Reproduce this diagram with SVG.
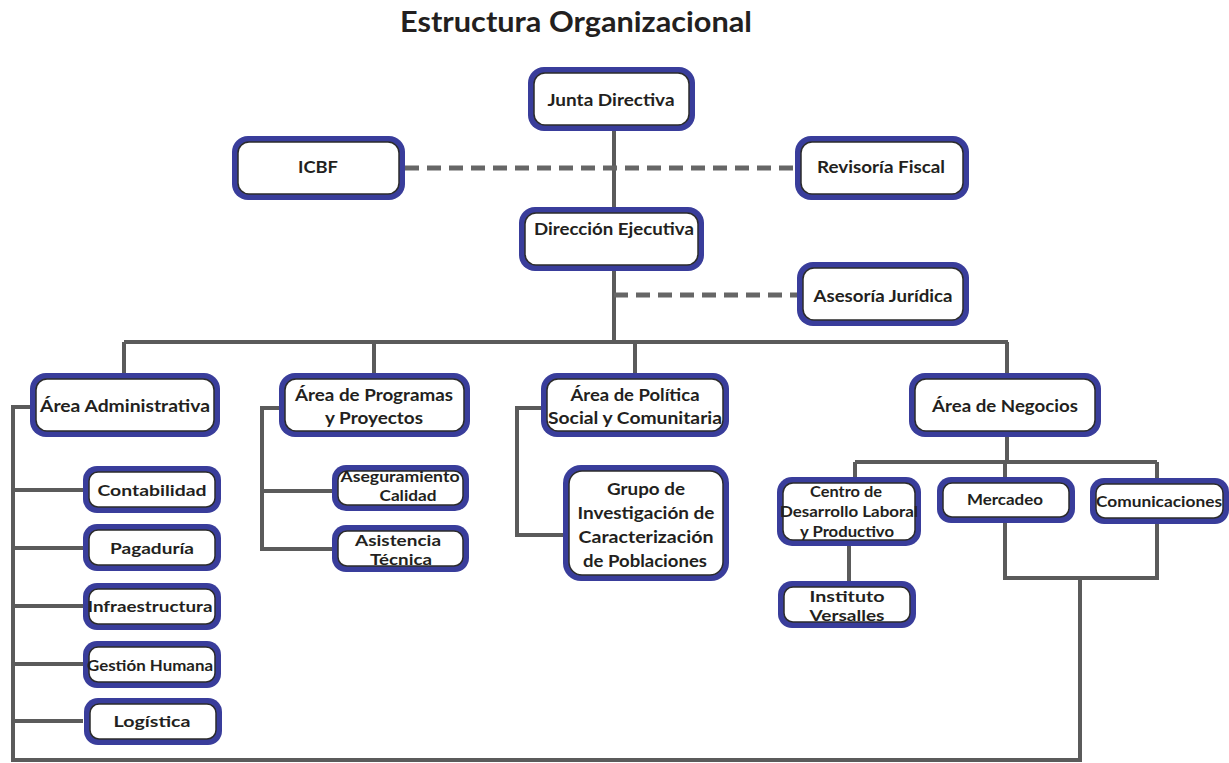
<svg xmlns="http://www.w3.org/2000/svg" width="1229" height="763" viewBox="0 0 1229 763">
<style>
.o{fill:#393d9b}
.i{fill:#fff;stroke:#2b2b2b;stroke-width:1.5}
.t{font-family:Lato,"Liberation Sans",sans-serif;font-weight:700;fill:#231f20;text-anchor:middle;dominant-baseline:central}
.c{fill:none;stroke:#5b5b5b;stroke-width:4}
.d{fill:none;stroke:#666;stroke-width:5;stroke-dasharray:14 8}
</style>
<rect width="1229" height="763" fill="#fff"/>
<text class="t" x="576" y="21" font-size="28" textLength="352" lengthAdjust="spacingAndGlyphs">Estructura Organizacional</text>
<g id="connectors">
<path class="c" d="M614 131V342M614 271V342M124 342H1008M124 342V373M374 342V373M635 342V373M1007 342V373"/>
<path class="d" d="M405 168H795"/>
<path class="d" d="M614 295H797"/>
<path class="c" d="M30 407H13V760H1080V578M13 490H83M13 548H83M13 606H83M13 664H83M13 721H83"/>
<path class="c" d="M279 408H262V549H333M262 491H333"/>
<path class="c" d="M541 408H517V535H563"/>
<path class="c" d="M1007 437V462M855 462H1157M855 462V477M1005 462V478M1157 462V478M849 545V582M1005 522V578H1157V523"/>
</g>
<g id="junta"><rect class="o" x="528" y="67" width="167" height="64" rx="16"/><rect class="i" x="534" y="73" width="155" height="52" rx="11"/><text class="t" x="611" y="99" font-size="17" textLength="127" lengthAdjust="spacingAndGlyphs">Junta Directiva</text></g>
<g id="icbf"><rect class="o" x="232" y="136" width="173" height="64" rx="16"/><rect class="i" x="238" y="142" width="161" height="52" rx="11"/><text class="t" x="318" y="166" font-size="17" textLength="40" lengthAdjust="spacingAndGlyphs">ICBF</text></g>
<g id="revisoria"><rect class="o" x="795" y="136" width="174" height="64" rx="16"/><rect class="i" x="801" y="142" width="162" height="52" rx="11"/><text class="t" x="881" y="166" font-size="17" textLength="128" lengthAdjust="spacingAndGlyphs">Revisoría Fiscal</text></g>
<g id="direccion"><rect class="o" x="519" y="207" width="185" height="64" rx="16"/><rect class="i" x="525" y="213" width="173" height="52" rx="11"/><text class="t" x="614" y="228" font-size="17" textLength="160" lengthAdjust="spacingAndGlyphs">Dirección Ejecutiva</text></g>
<g id="asesoria"><rect class="o" x="797" y="262" width="172" height="64" rx="16"/><rect class="i" x="803" y="268" width="160" height="52" rx="11"/><text class="t" x="883" y="295" font-size="17" textLength="139" lengthAdjust="spacingAndGlyphs">Asesoría Jurídica</text></g>
<g id="administrativa"><rect class="o" x="30" y="373" width="190" height="64" rx="16"/><rect class="i" x="36" y="379" width="178" height="52" rx="11"/><text class="t" x="125" y="405" font-size="17" textLength="170" lengthAdjust="spacingAndGlyphs">Área Administrativa</text></g>
<g id="programas"><rect class="o" x="279" y="373" width="191" height="64" rx="16"/><rect class="i" x="285" y="379" width="179" height="52" rx="11"/><text class="t" x="374" y="394" font-size="17" textLength="158" lengthAdjust="spacingAndGlyphs">Área de Programas</text><text class="t" x="374" y="417" font-size="17" textLength="98" lengthAdjust="spacingAndGlyphs">y Proyectos</text></g>
<g id="politica"><rect class="o" x="541" y="373" width="188" height="64" rx="16"/><rect class="i" x="547" y="379" width="176" height="52" rx="11"/><text class="t" x="635" y="394" font-size="17" textLength="129" lengthAdjust="spacingAndGlyphs">Área de Política</text><text class="t" x="635" y="417" font-size="17" textLength="174" lengthAdjust="spacingAndGlyphs">Social y Comunitaria</text></g>
<g id="negocios"><rect class="o" x="909" y="373" width="192" height="64" rx="16"/><rect class="i" x="915" y="379" width="180" height="52" rx="11"/><text class="t" x="1005" y="405" font-size="17" textLength="146" lengthAdjust="spacingAndGlyphs">Área de Negocios</text></g>
<g id="contabilidad"><rect class="o" x="83" y="466" width="138" height="47" rx="14"/><rect class="i" x="89" y="472" width="126" height="35" rx="9"/><text class="t" x="152" y="489" font-size="16" textLength="109" lengthAdjust="spacingAndGlyphs">Contabilidad</text></g>
<g id="pagaduria"><rect class="o" x="83" y="524" width="138" height="47" rx="14"/><rect class="i" x="89" y="530" width="126" height="35" rx="9"/><text class="t" x="152" y="547" font-size="16" textLength="84" lengthAdjust="spacingAndGlyphs">Pagaduría</text></g>
<g id="infraestructura"><rect class="o" x="83" y="583" width="138" height="47" rx="14"/><rect class="i" x="89" y="589" width="126" height="35" rx="9"/><text class="t" x="150" y="605" font-size="16" textLength="125" lengthAdjust="spacingAndGlyphs">Infraestructura</text></g>
<g id="gestion"><rect class="o" x="83" y="641" width="138" height="47" rx="14"/><rect class="i" x="89" y="647" width="126" height="35" rx="9"/><text class="t" x="150" y="664" font-size="16" textLength="126" lengthAdjust="spacingAndGlyphs">Gestión Humana</text></g>
<g id="logistica"><rect class="o" x="84" y="698" width="138" height="47" rx="14"/><rect class="i" x="90" y="704" width="126" height="35" rx="9"/><text class="t" x="152" y="720" font-size="16" textLength="77" lengthAdjust="spacingAndGlyphs">Logística</text></g>
<g id="aseguramiento"><rect class="o" x="332" y="465" width="137" height="46" rx="14"/><rect class="i" x="338" y="471" width="125" height="34" rx="9"/><text class="t" x="400" y="476" font-size="15" textLength="119" lengthAdjust="spacingAndGlyphs">Aseguramiento</text><text class="t" x="408" y="495" font-size="15" textLength="57" lengthAdjust="spacingAndGlyphs">Calidad</text></g>
<g id="asistencia"><rect class="o" x="332" y="525" width="137" height="47" rx="14"/><rect class="i" x="338" y="531" width="125" height="35" rx="9"/><text class="t" x="398" y="539" font-size="16" textLength="86" lengthAdjust="spacingAndGlyphs">Asistencia</text><text class="t" x="401" y="558" font-size="16" textLength="62" lengthAdjust="spacingAndGlyphs">Técnica</text></g>
<g id="grupo"><rect class="o" x="563" y="465" width="166" height="116" rx="18"/><rect class="i" x="569" y="471" width="154" height="104" rx="13"/><text class="t" x="646" y="488" font-size="17" textLength="78" lengthAdjust="spacingAndGlyphs">Grupo de</text><text class="t" x="646" y="512" font-size="17" textLength="137" lengthAdjust="spacingAndGlyphs">Investigación de</text><text class="t" x="646" y="536" font-size="17" textLength="135" lengthAdjust="spacingAndGlyphs">Caracterización</text><text class="t" x="645" y="560" font-size="17" textLength="124" lengthAdjust="spacingAndGlyphs">de Poblaciones</text></g>
<g id="centro"><rect class="o" x="777" y="477" width="144" height="69" rx="15"/><rect class="i" x="783" y="483" width="132" height="57" rx="10"/><text class="t" x="846" y="491" font-size="15" textLength="72" lengthAdjust="spacingAndGlyphs">Centro de</text><text class="t" x="849" y="511" font-size="15" textLength="138" lengthAdjust="spacingAndGlyphs">Desarrollo Laboral</text><text class="t" x="847" y="531" font-size="15" textLength="94" lengthAdjust="spacingAndGlyphs">y Productivo</text></g>
<g id="instituto"><rect class="o" x="778" y="581" width="138" height="47" rx="14"/><rect class="i" x="784" y="587" width="126" height="35" rx="9"/><text class="t" x="847" y="595" font-size="16" textLength="75" lengthAdjust="spacingAndGlyphs">Instituto</text><text class="t" x="847" y="614" font-size="16" textLength="75" lengthAdjust="spacingAndGlyphs">Versalles</text></g>
<g id="mercadeo"><rect class="o" x="937" y="477" width="138" height="46" rx="14"/><rect class="i" x="943" y="483" width="126" height="34" rx="9"/><text class="t" x="1005" y="498" font-size="16" textLength="76" lengthAdjust="spacingAndGlyphs">Mercadeo</text></g>
<g id="comunicaciones"><rect class="o" x="1090" y="478" width="139" height="46" rx="14"/><rect class="i" x="1096" y="484" width="127" height="34" rx="9"/><text class="t" x="1159" y="500" font-size="16" textLength="126" lengthAdjust="spacingAndGlyphs">Comunicaciones</text></g>
</svg>
